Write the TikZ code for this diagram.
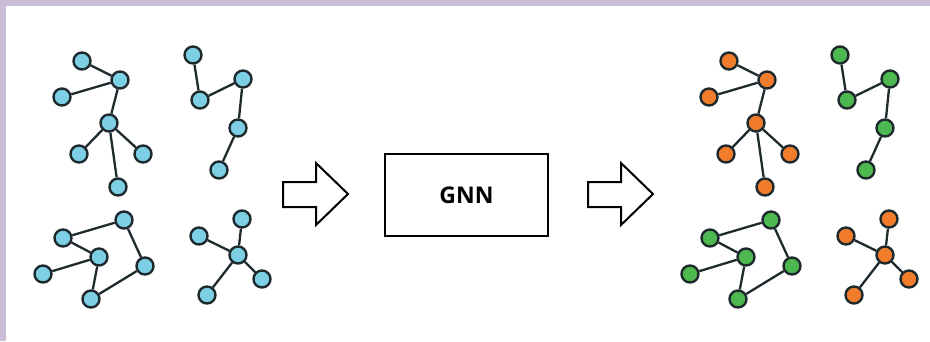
\documentclass[tikz,border=0pt]{standalone}
\usepackage{fontspec}
\setmainfont{Open Sans}
\definecolor{lavender}{HTML}{CBBDDA}
\definecolor{nodeblue}{HTML}{7DCFE3}
\definecolor{nodeorange}{HTML}{F07C2C}
\definecolor{nodegreen}{HTML}{4DB84F}
\definecolor{rim}{HTML}{1E2A2E}
\tikzset{
  vert/.style={circle,draw=rim,line width=2.4pt,minimum size=17pt,inner sep=0pt},
  link/.style={draw=rim,line width=2.3pt},
  hollow/.style={draw=black,line width=2pt,fill=white,line join=miter}
}
\begin{document}
\begin{tikzpicture}[x=1pt,y=-1pt]
    \useasboundingbox (0,0) rectangle (930,341);
    \fill[white] (0,0) rectangle (930,341);
    \fill[lavender] (0,0) rectangle (930,6);
    \fill[lavender] (0,0) rectangle (6,341);

    % input graphs
    \foreach \side/\dx/\ca/\cb/\cc/\cd in {l/0/nodeblue/nodeblue/nodeblue/nodeblue,
                                         r/647/nodeorange/nodegreen/nodegreen/nodeorange}{
        \begin{scope}[xshift=\dx pt]
            \foreach \n/\x/\y in {a1/82/61,a2/120/80,a3/62/97,a4/109/123,a5/79/154,a6/143/154,a7/118/187}
                \node[vert,fill=\ca] (\side\n) at (\x,\y) {};
            \foreach \n/\x/\y in {b1/193/55,b2/200/100,b3/243/79,b4/238/128,b5/219/170}
                \node[vert,fill=\cb] (\side\n) at (\x,\y) {};
            \foreach \n/\x/\y in {c1/124/220,c2/63/238,c3/99/257,c4/43/274,c5/145/266,c6/91/299}
                \node[vert,fill=\cc] (\side\n) at (\x,\y) {};
            \foreach \n/\x/\y in {d1/242/219,d2/199/236,d3/238/255,d4/262/279,d5/207/295}
                \node[vert,fill=\cd] (\side\n) at (\x,\y) {};
        \end{scope}
        \foreach \u/\v in {a1/a2,a3/a2,a2/a4,a4/a5,a4/a6,a4/a7,
                           b1/b2,b2/b3,b3/b4,b4/b5,
                           c2/c1,c2/c3,c3/c4,c1/c5,c5/c6,c3/c6,
                           d1/d3,d2/d3,d3/d4,d3/d5}
            \draw[link] (\side\u) -- (\side\v);
    }

    % model
    \node[draw=black,line width=2.2pt,minimum width=163pt,minimum height=82pt] (gnn) at (466.5,195)
        {\fontsize{23}{26}\selectfont\bfseries GNN};

    % block arrows
    \draw[hollow] (283,182) -- (316,182) -- (316,163) -- (348,194) -- (316,225) -- (316,207) -- (283,207) -- cycle;
    \draw[hollow] (588,182) -- (621,182) -- (621,163) -- (653,194) -- (621,225) -- (621,207) -- (588,207) -- cycle;
\end{tikzpicture}
\end{document}
